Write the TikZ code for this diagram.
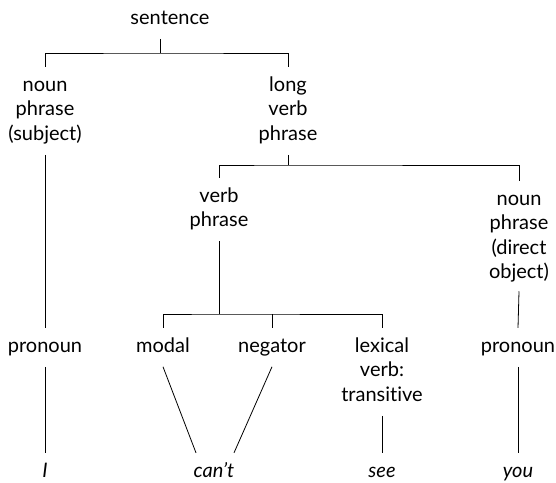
\documentclass[tikz,border=0pt]{standalone}
\usepackage{fontspec}
\setmainfont{Lato}[Ligatures={NoCommon}]
\newcommand\mlines[1]{\begin{tabular}{@{}c@{}}#1\end{tabular}}
\begin{document}
\begin{tikzpicture}[x=1pt,y=-1pt,
  lbl/.style={anchor=north,inner xsep=2pt,inner ysep=7pt,
    font=\fontsize{20}{24.5}\selectfont},
  word/.style={lbl,font=\fontsize{20}{24.5}\selectfont\itshape},
  ln/.style={line width=0.8pt}]
\useasboundingbox (0,0) rectangle (556,482);
% labels
\node[lbl] (sent) at (170,-0.15) {\mlines{sentence}};
\node[lbl] (np1) at (45,66.85) {\mlines{noun\\phrase\\(subject)}};
\node[lbl] (lvp) at (288,66.85) {\mlines{long\\verb\\phrase}};
\node[lbl] (vp) at (219,177.85) {\mlines{verb\\phrase}};
\node[lbl] (np2) at (519,180.85) {\mlines{noun\\phrase\\(direct\\object)}};
\node[lbl] (pr1) at (45,327.85) {\mlines{pronoun}};
\node[lbl] (modal) at (163,327.85) {\mlines{modal}};
\node[lbl] (neg) at (272,327.85) {\mlines{negator}};
\node[lbl] (lex) at (382,327.85) {\mlines{lexical\\verb:\\transitive}};
\node[lbl] (pr2) at (518,327.85) {\mlines{pronoun}};
\node[word] (wI) at (45,452.85) {\mlines{I}};
\node[word] (cant) at (214,452.85) {\mlines{can’t}};
\node[word] (see) at (382,452.85) {\mlines{see}};
\node[word] (you) at (518,452.85) {\mlines{you}};
% bar joints
\coordinate (b1) at (160,53);
\coordinate (b2) at (288,165);
\coordinate (b3) at (219,314);
% connectors
\draw[ln] ([xshift=-10pt]sent.south) -- (b1);
\draw[ln] (np1.north) |- (b1) -| (lvp.north);
\draw[ln] (lvp.south) -- (b2);
\draw[ln] (vp.north) |- (b2) -| (np2.north);
\draw[ln] (vp.south) -- (b3);
\draw[ln] (modal.north) |- (b3) -| (lex.north);
\draw[ln] (neg.north) -- (neg.north |- b3);
\draw[ln] (np1.south) -- (pr1.north);
\draw[ln] (pr1.south) -- (wI.north);
\draw[ln] ([yshift=2pt]np2.south) -- (pr2.north);
\draw[ln] (pr2.south) -- (you.north);
\draw[ln] (modal.south) -- ([xshift=-18pt]cant.north);
\draw[ln] (neg.south) -- ([xshift=20pt]cant.north);
\draw[ln] (lex.south) -- (see.north);
\end{tikzpicture}
\end{document}
